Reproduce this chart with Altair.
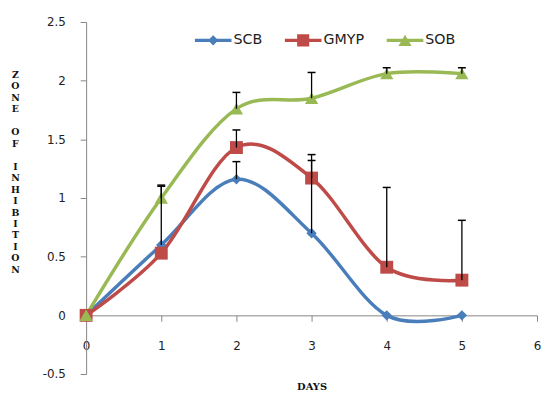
import altair as alt
import pandas as pd

# ---- data ----
days = [0, 1, 2, 3, 4, 5]
series = ["SCB", "GMYP", "SOB"]
scb = [0.0, 0.60, 1.16, 0.70, 0.0, 0.0]
gmyp = [0.0, 0.53, 1.43, 1.17, 0.41, 0.30]
sob = [0.0, 1.00, 1.76, 1.85, 2.06, 2.06]
# positive (upper) error amounts; None = no bar drawn
scb_err = [None, 0.51, 0.15, 0.62, None, None]
gmyp_err = [None, None, 0.15, 0.20, 0.68, 0.51]
sob_err = [None, 0.10, 0.14, 0.22, 0.05, 0.05]

x_ticks = [0, 1, 2, 3, 4, 5, 6]
y_ticks = [-0.5, 0, 0.5, 1, 1.5, 2, 2.5]
colors = ["#4A7EBB", "#BE4B48", "#98B954"]
GAP = "\u200b"
y_title = list("ZONE") + [GAP] + list("OF") + [GAP] + list("INHIBITION")

rows = []
for name, vals, errs in zip(series, [scb, gmyp, sob], [scb_err, gmyp_err, sob_err]):
    for d, v, e in zip(days, vals, errs):
        rows.append({"day": d, "series": name, "value": v,
                     "err": e, "upper": (v + e) if e is not None else None})
df = pd.DataFrame(rows)
legend_df = pd.DataFrame({"series": series})

W, H = 456, 356
y_dom = [-0.5, 2.5]
x_axis_offset = -H * (0 - y_dom[0]) / (y_dom[1] - y_dom[0])

label_font = "DejaVu Sans"
title_font = "DejaVu Serif"
axis_gray = "#868686"

x_enc = alt.X("day:Q", scale=alt.Scale(domain=[0, 6], nice=False, zero=False),
              axis=alt.Axis(values=x_ticks, format="d", offset=x_axis_offset,
                            tickSize=6, labelPadding=20, labelFlush=False,
                            grid=False, domainColor=axis_gray, tickColor=axis_gray,
                            labelFont=label_font, labelFontSize=12, labelColor="#222",
                            title="DAYS", titleFont=title_font, titleFontWeight="bold",
                            titleFontSize=10, titleColor="#111",
                            titleX=W / 2, titleY=72, titleBaseline="middle"))
y_scale = alt.Scale(domain=y_dom, nice=False, zero=False)
y_enc = alt.Y("value:Q", scale=y_scale,
              axis=alt.Axis(values=y_ticks,
                            labelExpr="replace(format(datum.value, '~g'), '\u2212', '-')",
                            tickSize=6, labelPadding=15, labelFlush=False, grid=False,
                            domainColor=axis_gray, tickColor=axis_gray,
                            labelFont=label_font, labelFontSize=12, labelColor="#222",
                            title=y_title, titleAngle=0, titleX=-72, titleY=48,
                            titleBaseline="top", titleAlign="center",
                            titleLineHeight=11.6, titleFont=title_font,
                            titleFontWeight="bold", titleFontSize=9.5, titleColor="#111"))

base = alt.Chart(df)

marker_shapes = ["diamond", "square", "triangle-up"]
marker_sizes = [110, 170, 180]
layers = []
for i, (name, col) in enumerate(zip(series, colors)):
    sub = base.transform_filter(alt.datum.series == name)
    layers.append(sub.mark_line(interpolate="cardinal", strokeWidth=3.5, color=col).encode(
        x=x_enc if i == 0 else "day:Q", y=y_enc if i == 0 else "value:Q"))
for name, col, shp, sz in zip(series, colors, marker_shapes, marker_sizes):
    sub = base.transform_filter(alt.datum.series == name)
    layers.append(sub.mark_point(filled=True, shape=shp, size=sz, opacity=1, color=col)
                  .encode(x="day:Q", y="value:Q"))

err_df = base.transform_filter("isValid(datum.upper)")
layers.append(err_df.mark_rule(color="black", strokeWidth=1.3).encode(
    x="day:Q", y="value:Q", y2="upper:Q"))
layers.append(err_df.mark_rule(color="black", strokeWidth=1.5, xOffset=-4, x2Offset=4).encode(
    x="day:Q", x2="day:Q", y="upper:Q"))

line_part = "M-1,-0.09H1V0.09H-1Z "
legend_paths = [
    line_part + "M-0.28,0L0,-0.28L0.28,0L0,0.28Z",
    line_part + "M-0.33,-0.33H0.33V0.33H-0.33Z",
    line_part + "M0,-0.31L0.36,0.31H-0.36Z",
]
leg = alt.Legend(title=None, orient="none", legendX=110, legendY=0,
                 direction="horizontal", symbolSize=1369, symbolStrokeWidth=0,
                 labelFont=label_font, labelFontSize=14.4, labelColor="#222",
                 labelOffset=2, columnPadding=22, padding=0)
layers.append(alt.Chart(legend_df).mark_point(filled=True, opacity=1, size=1369, clip=True).encode(
    x=alt.value(10), y=alt.value(-150),
    color=alt.Color("series:N", scale=alt.Scale(domain=series, range=colors), legend=leg),
    shape=alt.Shape("series:N", scale=alt.Scale(domain=series, range=legend_paths), legend=leg),
))

chart = alt.layer(*layers).properties(
    width=W, height=H,
    autosize=alt.AutoSizeParams(type="none"),
    padding={"left": 79, "top": 12, "right": 4, "bottom": 15},
    background="white",
).configure_view(stroke=None)

chart.save("out.html", embed_options={"renderer": "svg", "actions": False})
